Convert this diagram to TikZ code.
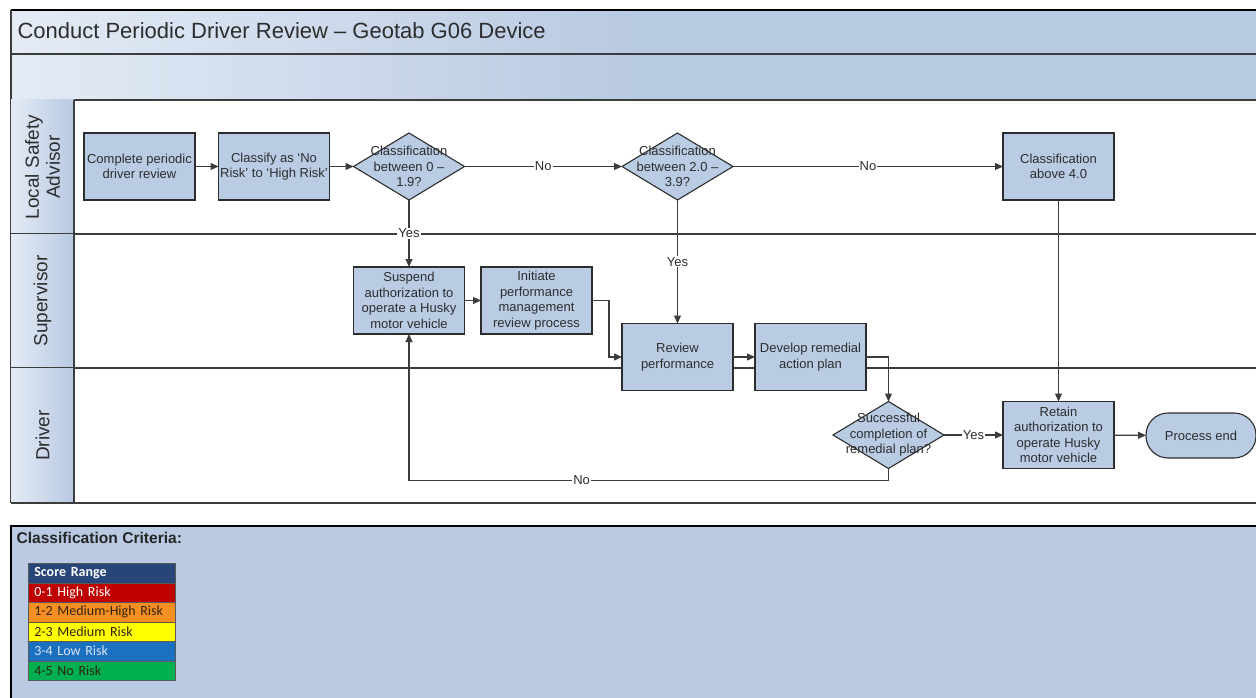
\documentclass[tikz,border=0pt]{standalone}
\usepackage{fontspec}
\setmainfont{Liberation Sans}
\newfontfamily\legendfont{Carlito}
\usetikzlibrary{shapes.geometric, arrows.meta, positioning}
\definecolor{barblue}{RGB}{184,201,226}
\definecolor{barlight}{RGB}{228,235,245}
\definecolor{boxfill}{RGB}{185,204,228}
\definecolor{boxline}{RGB}{45,45,45}
\definecolor{linegray}{RGB}{60,60,60}
\definecolor{textgray}{RGB}{45,45,45}
\definecolor{panelblue}{RGB}{185,202,226}
\definecolor{scorehead}{RGB}{38,70,122}
\definecolor{riskhigh}{RGB}{192,0,0}
\definecolor{riskmedhigh}{RGB}{246,143,34}
\definecolor{riskmed}{RGB}{255,255,0}
\definecolor{risklow}{RGB}{28,112,192}
\definecolor{risknone}{RGB}{0,176,80}
\definecolor{paletext}{RGB}{215,228,245}
\definecolor{darktext}{RGB}{50,35,20}
\newcommand{\flowtext}{\fontsize{13}{15.5}\selectfont}
\tikzset{
  procbox/.style={draw=boxline, line width=1.1pt, fill=boxfill, minimum width=111pt,
    minimum height=67pt, inner sep=0pt, outer sep=0pt, align=center, font=\flowtext, text=textgray},
  decision/.style={diamond, draw=boxline, line width=1.1pt, fill=boxfill, minimum width=111pt,
    minimum height=67pt, inner sep=0pt, outer sep=0pt},
  dectext/.style={font=\flowtext, align=center, text=textgray},
  flow/.style={draw=linegray, line width=1.1pt, -{Triangle[length=8pt,width=7pt]}},
  lbl/.style={fill=white, inner sep=1pt, font=\flowtext, text=textgray},
  lanerule/.style={draw=linegray, line width=1.2pt},
  lanetext/.style={rotate=90, align=center, font=\fontsize{19}{21}\selectfont, text=textgray},
  legrow/.style={anchor=north west, minimum height=19.5pt, text width=135pt, inner xsep=6pt,
    inner ysep=0pt, align=left, draw=gray!70!black, line width=0.6pt, font=\legendfont\fontsize{14}{16}\selectfont}
}
\begin{document}
\begin{tikzpicture}[x=1pt, y=-1pt]
  \useasboundingbox (0,0) rectangle (1256,698);
  % Title bars
  \shade[left color=barlight, right color=barblue, middle color=barblue] (11,10) rectangle (1270,54);
  \shade[left color=barlight, right color=barblue, middle color=barblue] (11,54) rectangle (1270,100);
  \draw[black, line width=2pt] (11,10) -- (1270,10);
  \draw[lanerule] (11,10) -- (11,503);
  \draw[lanerule] (11,54) -- (1270,54);
  \draw[lanerule] (11,100) -- (1270,100);
  \node[anchor=west, font=\fontsize{22}{24}\selectfont, text=textgray] (title) at (14,31)
    {Conduct Periodic Driver Review – Geotab G06 Device};
  % Swimlanes
  \foreach \ytop/\ybot/\lname/\ltext in {100/234/lsa/{Local Safety\\Advisor},
      234/368/sup/{Supervisor}, 368/503/drv/{Driver}} {
    \shade[left color=barlight, right color=barblue] (11,\ytop) rectangle (74,\ybot);
    \node[lanetext] (lane\lname) at (42.5,{(\ytop+\ybot)/2}) {\ltext};
    \draw[lanerule] (11,\ybot) -- (1270,\ybot);
  }
  \draw[lanerule] (74,100) -- (74,503);
  % Local Safety Advisor
  \node[procbox] (complete) at (139.5,166.5) {Complete periodic\\driver review};
  \node[procbox] (classify) at (274,166.5) {Classify as ‘No\\Risk’ to ‘High Risk’};
  \node[decision, label={[dectext]center:{Classification\\between 0 –\\1.9?}}] (decone) at (409,166.5) {};
  \node[decision, label={[dectext]center:{Classification\\between 2.0 –\\3.9?}}] (dectwo) at (677.5,166.5) {};
  \node[procbox] (above) at (1058.5,166.5) {Classification\\above 4.0};
  % Supervisor
  \node[procbox] (suspend) at (409,300.5) {Suspend\\authorization to\\operate a Husky\\motor vehicle};
  \node[procbox] (initiate) at (536.5,300.5) {Initiate\\performance\\management\\review process};
  \node[procbox] (review) at (677.5,357) {Review\\performance};
  \node[procbox] (remedial) at (810.5,357) {Develop remedial\\action plan};
  % Driver
  \node[decision, label={[dectext]center:{Successful\\completion of\\remedial plan?}}] (decthree) at (888.5,435) {};
  \node[procbox] (retain) at (1058.5,435) {Retain\\authorization to\\operate Husky\\motor vehicle};
  \node[procbox, rounded corners=22pt, minimum width=110pt, minimum height=45pt] (endp) at (1201,435.5) {Process end};
  % Connectors
  \draw[flow] (complete) -- (classify);
  \draw[flow] (classify) -- (decone);
  \draw[flow] (decone) -- node[lbl] {No} (dectwo);
  \draw[flow] (dectwo) -- node[lbl] {No} (above);
  \draw[flow] (decone) -- node[lbl] {Yes} (suspend);
  \draw[flow] (dectwo) -- node[lbl] {Yes} (review);
  \draw[flow] (suspend) -- (initiate);
  \draw[flow] (initiate.east) -- ++(17,0) |- (review.west);
  \draw[flow] (review) -- (remedial);
  \draw[flow] (remedial.east) -| (decthree.north);
  \draw[flow] (above) -- (retain);
  \draw[flow] (decthree) -- node[lbl] {Yes} (retain);
  \draw[flow] (retain) -- (endp);
  \draw[flow] (decthree.south) -- ++(0,12) -| node[lbl, pos=0.32] {No} (suspend.south);
  % Classification criteria panel
  \draw[black, line width=1.2pt, fill=panelblue] (11,526) rectangle (1275,712);
  \node[anchor=west, font=\bfseries\fontsize{15.6}{18}\selectfont, text=black!85] (criteria) at (13,538)
    {Classification Criteria:};
  \node[legrow, fill=scorehead, text=white, font=\legendfont\bfseries\fontsize{14}{16}\selectfont] (row0) at (28,563) {Score Range};
  \foreach \rcol/\rtext/\tcol [count=\i] in {riskhigh/0-1 High Risk/white,
      riskmedhigh/1-2 Medium-High Risk/darktext, riskmed/2-3 Medium Risk/darktext,
      risklow/3-4 Low Risk/paletext, risknone/4-5 No Risk/darktext}
    \node[legrow, fill=\rcol, text=\tcol] (row\i) at (28,{563+19.5*\i}) {\rtext};
\end{tikzpicture}
\end{document}
